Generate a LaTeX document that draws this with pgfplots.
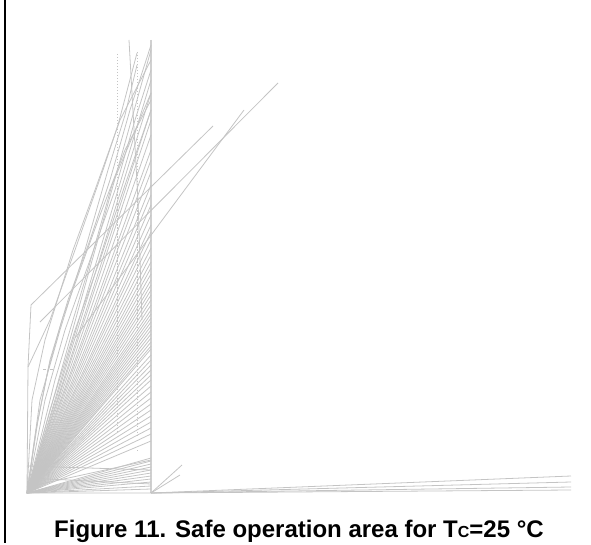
\documentclass[border=0pt]{standalone}
\usepackage{pgfplots}
\pgfplotsset{compat=1.18}
\usepackage{fontspec}
\setmainfont{Liberation Sans}
\definecolor{gl}{RGB}{196,196,196}
\definecolor{gt}{RGB}{208,208,208}
\pgfplotsset{gline/.style={draw=gl, line width=0.8pt, solid, mark=none}}
\begin{document}
\begin{tikzpicture}
\useasboundingbox (0,0) rectangle (591bp,545bp);
\begin{axis}[scale only axis, width=591bp, height=545bp, at={(0,0)}, anchor=south west,
  xmin=0, xmax=591, ymin=0, ymax=545, y dir=reverse, hide axis, clip=false]
% left border
\addplot[draw=black, line width=2bp, mark=none] coordinates {(5,0)(5,543)};
% thick vertical
\addplot[draw=gt, line width=2.8bp, mark=none] coordinates {(151,40)(151,493)};
% dotted verticals
\addplot[draw=gl, line width=0.5pt, mark=none, dash pattern=on 1.5pt off 1.5pt] coordinates {(117,54)(117,432)};
\addplot[draw=gl, line width=0.5pt, mark=none, dash pattern=on 1.5pt off 1.5pt] coordinates {(137,52)(137,435)};
% near vertical solid
\addplot[gline] coordinates {(129,40)(138,200)(142,320)};
% fan from origin to the vertical
\addplot[gline] coordinates {(27,493)(151,50)};
\addplot[gline] coordinates {(27,493)(151,80)};
\addplot[gline] coordinates {(27,493)(151,93)};
\addplot[gline] coordinates {(27,493)(151,110)};
\addplot[gline] coordinates {(27,493)(151,120)};
\addplot[gline] coordinates {(27,493)(151,135)};
\addplot[gline] coordinates {(27,493)(151,150)};
\addplot[gline] coordinates {(27,493)(151,160)};
\addplot[gline] coordinates {(27,493)(151,172)};
\addplot[gline] coordinates {(27,493)(151,185)};
\addplot[gline] coordinates {(27,493)(151,195)};
\addplot[gline] coordinates {(27,493)(151,205)};
\addplot[gline] coordinates {(27,493)(151,215)};
\addplot[gline] coordinates {(27,493)(151,225)};
\addplot[gline] coordinates {(27,493)(151,232)};
\addplot[gline] coordinates {(27,493)(151,240)};
\addplot[gline] coordinates {(27,493)(151,248)};
\addplot[gline] coordinates {(27,493)(151,255)};
\addplot[gline] coordinates {(27,493)(151,262)};
\addplot[gline] coordinates {(27,493)(151,268)};
\addplot[gline] coordinates {(27,493)(151,274)};
\addplot[gline] coordinates {(27,493)(151,280)};
\addplot[gline] coordinates {(27,493)(151,285)};
\addplot[gline] coordinates {(27,493)(151,290)};
\addplot[gline] coordinates {(27,493)(151,295)};
\addplot[gline] coordinates {(27,493)(151,300)};
\addplot[gline] coordinates {(27,493)(151,305)};
\addplot[gline] coordinates {(27,493)(151,310)};
\addplot[gline] coordinates {(27,493)(151,314)};
\addplot[gline] coordinates {(27,493)(151,318)};
\addplot[gline] coordinates {(27,493)(151,322)};
\addplot[gline] coordinates {(27,493)(151,326)};
\addplot[gline] coordinates {(27,493)(151,330)};
\addplot[gline] coordinates {(27,493)(151,334)};
\addplot[gline] coordinates {(27,493)(151,338)};
\addplot[gline] coordinates {(27,493)(151,342)};
\addplot[gline] coordinates {(27,493)(151,346)};
\addplot[gline] coordinates {(27,493)(151,349)};
\addplot[gline] coordinates {(27,493)(151,355)};
\addplot[gline] coordinates {(27,493)(151,360)};
\addplot[gline] coordinates {(27,493)(151,365)};
\addplot[gline] coordinates {(27,493)(151,370)};
\addplot[gline] coordinates {(27,493)(151,375)};
\addplot[gline] coordinates {(27,493)(151,380)};
\addplot[gline] coordinates {(27,493)(151,386)};
\addplot[gline] coordinates {(27,493)(151,392)};
\addplot[gline] coordinates {(27,493)(151,398)};
\addplot[gline] coordinates {(27,493)(151,404)};
\addplot[gline] coordinates {(27,493)(151,410)};
\addplot[gline] coordinates {(27,493)(151,416)};
\addplot[gline] coordinates {(27,493)(151,422)};
\addplot[gline] coordinates {(27,493)(151,428)};
\addplot[gline] coordinates {(27,493)(151,434)};
\addplot[gline] coordinates {(27,493)(151,441)};
\addplot[gline] coordinates {(27,493)(151,458)};
\addplot[gline] coordinates {(27,493)(151,461)};
\addplot[gline] coordinates {(27,493)(151,464)};
\addplot[gline] coordinates {(27,493)(151,467)};
\addplot[gline] coordinates {(27,493)(151,470)};
\addplot[gline] coordinates {(27,493)(151,473)};
\addplot[gline] coordinates {(27,493)(151,476)};
\addplot[gline] coordinates {(27,493)(151,479)};
\addplot[gline] coordinates {(27,493)(151,482)};
\addplot[gline] coordinates {(27,493)(151,486)};
\addplot[gline] coordinates {(27,493)(151,489)};
% low crossing lines
\addplot[gline] coordinates {(27,466)(151,470)};
\addplot[gline] coordinates {(27,478)(151,484)};
\addplot[gline] coordinates {(27,487)(151,460)};
% base lines
\addplot[gline] coordinates {(27,493)(151,493)(571,490)};
\addplot[gline] coordinates {(151,493)(571,476)};
\addplot[gline] coordinates {(151,493)(571,482)};
\addplot[gline] coordinates {(151,493)(571,487)};
\addplot[gline] coordinates {(151,493)(182,465)};
\addplot[gline] coordinates {(151,493)(180,475)};
% left vertical and long diagonals
\addplot[gline] coordinates {(27,493)(28,367)(31,305)(213,126)};
\addplot[gline] coordinates {(75,338)(163,219)(244,110)};
\addplot[gline] coordinates {(40,322)(278,83)};
% curved left group
\addplot[gline] coordinates {(28,367)(50,320)(75,250)(103,170)(118,125)(137,53)};
\addplot[gline] coordinates {(27,493)(40,400)(60,330)(85,250)(108,170)(125,115)(137,65)};
\addplot[gline] coordinates {(27,493)(55,380)(85,280)(112,185)(151,93)};
\addplot[gline] coordinates {(27,493)(32,400)(45,340)(73,250)(95,190)(120,120)(151,60)};
\addplot[gline] coordinates {(27,493)(38,420)(50,360)(68,300)(90,240)(110,180)(130,110)(151,45)};
\addplot[gline] coordinates {(27,493)(45,400)(65,330)(90,260)(115,190)(135,120)(151,70)};
\addplot[gline] coordinates {(27,493)(50,410)(75,330)(100,260)(125,185)(151,110)};
\addplot[gline] coordinates {(27,493)(36,430)(48,370)(62,320)(80,270)(100,215)(125,150)(151,100)};
% tiny marks
\addplot[gline] coordinates {(43,369)(46,369)};
\addplot[gline] coordinates {(50,369)(53,369)};
\addplot[gline] coordinates {(137,450)(138,450)};
\node[anchor=base, inner sep=0pt, font=\fontsize{24bp}{28bp}\selectfont\bfseries] at (axis cs:299,537)
  {Figure 11. Safe operation area for T{\fontsize{16bp}{16bp}\selectfont C}=25 °C};
\end{axis}
\end{tikzpicture}
\end{document}
